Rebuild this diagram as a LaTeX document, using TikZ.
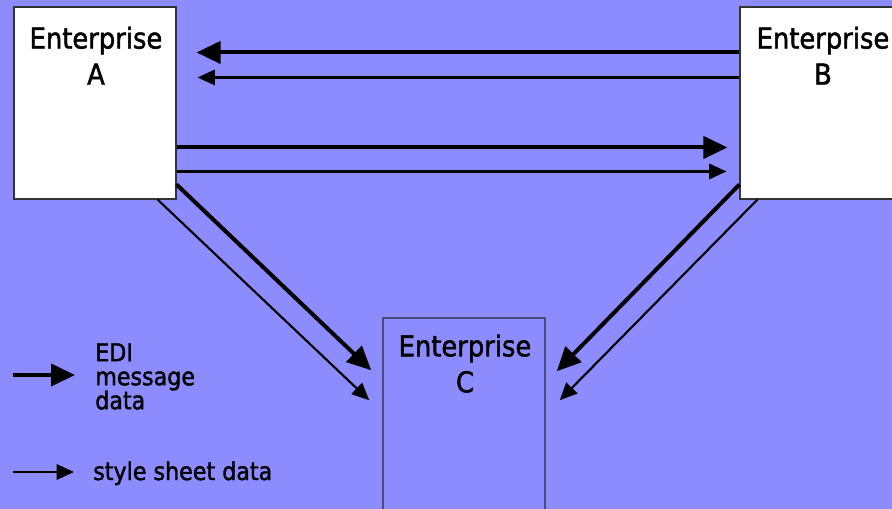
\documentclass[tikz,border=0pt]{standalone}
\usepackage{fontspec}
\setmainfont[FakeBold=1.6]{DejaVu Sans Condensed}
\usepackage{tikz}
\usetikzlibrary{calc,arrows.meta}
\definecolor{sky}{HTML}{8C8CFF}
\definecolor{frame}{HTML}{333333}
\definecolor{cframe}{HTML}{4A4A7A}
\tikzset{
  firm/.style={draw=frame, line width=0.8pt, fill=white, minimum width=121.5pt, minimum height=144pt, inner sep=0pt},
  firmlab/.style={font=\fontsize{21.5}{27}\selectfont, align=center, inner sep=0pt, anchor=north},
  edi/.style={line width=3pt, -{Triangle[length=18pt,width=16.5pt]}},
  sheet/.style={line width=1.6pt, -{Triangle[length=13pt,width=11.5pt]}},
  keylab/.style={font=\fontsize{18.5}{18}\selectfont, align=left, inner sep=0pt}
}

\begin{document}
\begin{tikzpicture}[x=0.75pt, y=-0.75pt]
  \fill[sky] (0,0) rectangle (892,509);
  \useasboundingbox (0,0) rectangle (892,509);

  % the three enterprises
  \node[firm] (A) at (95,103) {};
  \node[firm] (B) at (821,103) {};
  \node[firm, fill=sky, draw=cframe, line width=1.1pt] (C) at (464,414) {};

  \node[firmlab] (labA) at ($(A.north)+(1,20)$) {Enterprise\\A};
  \node[firmlab] (labB) at ($(B.north)+(2,20)$) {Enterprise\\B};
  \node[firmlab] (labC) at ($(C.north)+(1,17)$) {Enterprise\\C};

  % B to A
  \draw[edi] ($(B.north west)+(0,46)$) -- ($(A.north east)+(20,46)$);
  \draw[sheet] ($(B.north west)+(0,71)$) -- ($(A.north east)+(21,71)$);

  % A to B
  \draw[edi] ($(A.north east)+(0,141)$) -- ($(B.north west)+(-12,141)$);
  \draw[sheet] ($(A.north east)+(0,165)$) -- ($(B.north west)+(-13,165)$);

  % A and B to C
  \draw[edi] ($(A.north east)+(0,178)$) -- ($(C.north west)+(-11,53)$);
  \draw[sheet] ($(A.south east)+(-19,0)$) -- ($(C.north west)+(-13,83)$);
  \draw[edi] ($(B.north west)+(0,178)$) -- ($(C.north east)+(11,54)$);
  \draw[sheet] ($(B.south west)+(18,0)$) -- ($(C.north east)+(14,83)$);

  % key
  \coordinate (k1) at (13,375);
  \coordinate (k1e) at (75,375);
  \coordinate (k2) at (13,472);
  \coordinate (k2e) at (74,472);
  \draw[edi] (k1) -- (k1e);
  \draw[sheet] (k2) -- (k2e);
  \node[keylab, anchor=north west] (ediKey) at (95,343) {EDI\\message\\data};
  \node[keylab, anchor=base west] (sheetKey) at (93,480) {style sheet data};
\end{tikzpicture}
\end{document}
